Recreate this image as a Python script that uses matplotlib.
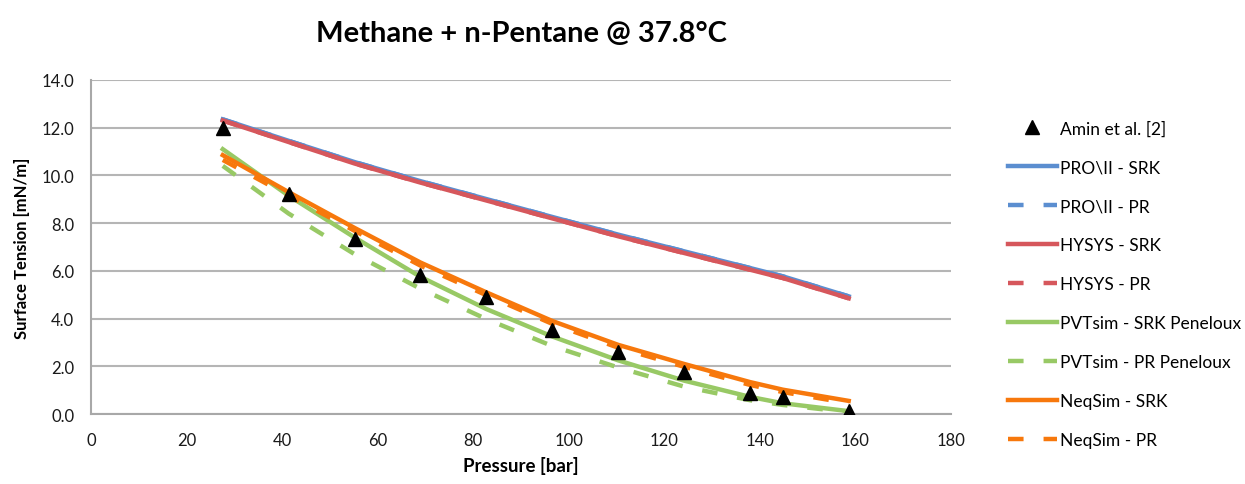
import matplotlib
matplotlib.use("Agg")
import matplotlib.pyplot as plt

plt.rcParams['font.family'] = ['Lato', 'DejaVu Sans']

# pressures of the measured points [bar]
pressure = [27.58, 41.37, 55.16, 68.95, 82.74, 96.53, 110.32, 124.11, 137.90, 144.79, 158.58]

# measured surface tension [mN/m]
amin = [12.0, 9.22, 7.33, 5.81, 4.91, 3.52, 2.62, 1.78, 0.90, 0.72, 0.12]

# simulator results [mN/m]
proii_srk = [12.35, 11.45, 10.56, 9.76, 9.01, 8.26, 7.52, 6.82, 6.12, 5.77, 4.93]
proii_pr = [12.35, 11.45, 10.56, 9.76, 9.01, 8.26, 7.52, 6.82, 6.12, 5.77, 4.93]
hysys_srk = [12.3, 11.4, 10.5, 9.7, 8.95, 8.2, 7.45, 6.75, 6.05, 5.7, 4.85]
hysys_pr = [12.3, 11.4, 10.5, 9.7, 8.95, 8.2, 7.45, 6.75, 6.05, 5.7, 4.85]
pvtsim_srk = [11.1, 9.15, 7.4, 5.75, 4.4, 3.25, 2.25, 1.4, 0.72, 0.45, 0.12]
pvtsim_pr = [10.4, 8.4, 6.7, 5.25, 3.98, 2.85, 1.95, 1.15, 0.58, 0.38, 0.08]
neqsim_srk = [10.85, 9.3, 7.8, 6.35, 5.1, 3.9, 2.9, 2.1, 1.34, 1.02, 0.55]
neqsim_pr = [10.65, 9.15, 7.68, 6.22, 4.98, 3.78, 2.78, 1.98, 1.22, 0.92, 0.45]

blue = '#5B8ED0'
red = '#D6575C'
green = '#98C965'
orange = '#F7780C'
dash = (0, (3.5, 4.5))

fig = plt.figure(figsize=(12.45, 4.85), dpi=100)
ax = fig.add_axes([0.0731, 0.1443, 0.6908, 0.6887])

ax.plot(pressure, amin, linestyle='none', marker='^', color='black', markersize=10,
        label='Amin et al. [2]', zorder=5)
ax.plot(pressure, proii_srk, color=blue, lw=3.2, label='PRO\\II - SRK')
ax.plot(pressure, proii_pr, color=blue, lw=3.2, linestyle=dash, label='PRO\\II - PR')
ax.plot(pressure, hysys_srk, color=red, lw=3.2, label='HYSYS - SRK')
ax.plot(pressure, hysys_pr, color=red, lw=3.2, linestyle=dash, label='HYSYS - PR')
ax.plot(pressure, pvtsim_srk, color=green, lw=3.2, label='PVTsim - SRK Peneloux')
ax.plot(pressure, pvtsim_pr, color=green, lw=3.2, linestyle=dash, label='PVTsim - PR Peneloux')
ax.plot(pressure, neqsim_srk, color=orange, lw=3.2, label='NeqSim - SRK')
ax.plot(pressure, neqsim_pr, color=orange, lw=3.2, linestyle=dash, label='NeqSim - PR')

ax.set_xlim(0, 180)
ax.set_ylim(0, 14)
ax.set_xticks(range(0, 181, 20))
ax.set_yticks(range(0, 15, 2))
ax.set_yticklabels([f'{v:.1f}' for v in range(0, 15, 2)])
ax.tick_params(length=0, labelsize=12, pad=12, labelcolor='#1A1A1A')
ax.tick_params(axis='x', pad=13)

ax.grid(axis='y', color='#B5B5B5', lw=1.5)
ax.set_axisbelow(True)
for side in ('top', 'right'):
    ax.spines[side].set_visible(False)
for side in ('left', 'bottom'):
    ax.spines[side].set_color('#A8A8A8')
    ax.spines[side].set_linewidth(1.5)

ax.set_title('Methane + n-Pentane @ 37.8°C', fontsize=21, fontweight='bold', pad=28)
ax.set_xlabel('Pressure [bar]', fontsize=13.5, fontweight='bold', labelpad=6)
ax.set_ylabel('Surface Tension [mN/m]', fontsize=12, fontweight='bold', labelpad=8)

fig.legend(loc='upper left', bbox_to_anchor=(0.797, 0.782), frameon=False,
           fontsize=12.5, handlelength=2.8, labelspacing=1.32, handletextpad=0.2)

fig.savefig('out.png', dpi=100)
